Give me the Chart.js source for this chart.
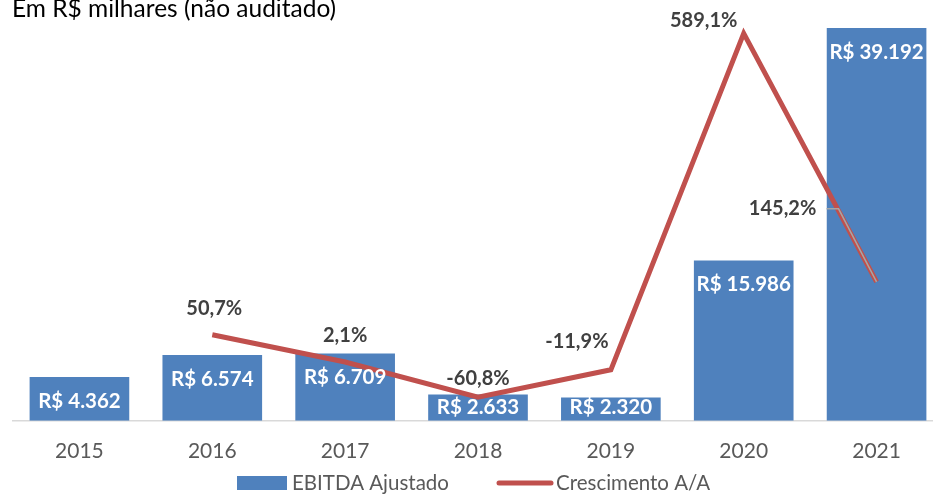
<!DOCTYPE html>
<html>
<head>
<meta charset="utf-8">
<script src="https://cdn.jsdelivr.net/npm/chart.js@4"></script>
<style>
  html, body { margin: 0; padding: 0; background: #fff; overflow: hidden; }
  #wrap { width: 946px; height: 495px; }
</style>
</head>
<body>
<div id="wrap"><canvas id="myChart" width="946" height="495"></canvas></div>
<script>
// dados (R$ milhares)
var anos = ['2015', '2016', '2017', '2018', '2019', '2020', '2021'];
var ebitda = [4362, 6574, 6709, 2633, 2320, 15986, 39192];
var crescimento = [null, 50.7, 2.1, -60.8, -11.9, 589.1, 145.2];
var titulo = 'Em R$ milhares (não auditado)';

// deslocamento dos rótulos da linha (px)
var offLinha = [[0, 0], [2, -26], [0, -26], [0, -19], [-34, -28], [-40, -13], [-94, -73]];

var FONTE = 'Lato, "Open Sans", sans-serif';
var AZUL = '#4F81BD';
var VERMELHO = '#C0504D';

function fmtMil(v) {
    return 'R$ ' + v.toString().replace(/\B(?=(\d{3})+(?!\d))/g, '.');
}
function fmtPct(v) {
    return v.toFixed(1).replace('.', ',') + '%';
}

var rotulos = {
    id: 'rotulos',
    afterDatasetsDraw: function(chart) {
        var ctx = chart.ctx;
        var base = chart.scales.y.getPixelForValue(0);
        ctx.save();
        // rótulos das barras
        ctx.font = 'bold 20.5px ' + FONTE;
        ctx.fillStyle = '#FFFFFF';
        ctx.textAlign = 'center';
        ctx.textBaseline = 'middle';
        chart.getDatasetMeta(0).data.forEach(function(bar, i) {
            var y = Math.min(bar.y + 24, base - 13);
            ctx.fillText(fmtMil(ebitda[i]), bar.x, y);
        });
        // rótulos da linha
        ctx.font = 'bold 20px ' + FONTE;
        ctx.fillStyle = '#404040';
        chart.getDatasetMeta(1).data.forEach(function(pt, i) {
            if (crescimento[i] === null) return;
            ctx.fillText(fmtPct(crescimento[i]), pt.x + offLinha[i][0], pt.y + offLinha[i][1]);
        });
        // linha de chamada do último rótulo
        var ult = chart.getDatasetMeta(1).data[6];
        ctx.strokeStyle = '#A6A6A6';
        ctx.lineWidth = 1.5;
        ctx.beginPath();
        ctx.moveTo(ult.x - 50, ult.y - 73);
        ctx.lineTo(ult.x - 38, ult.y - 73);
        ctx.lineTo(ult.x, ult.y);
        ctx.stroke();
        ctx.restore();
    },
    afterDraw: function(chart) {
        var ctx = chart.ctx;
        ctx.save();
        // título
        ctx.font = '24.5px ' + FONTE;
        ctx.fillStyle = '#000000';
        ctx.textAlign = 'left';
        ctx.textBaseline = 'alphabetic';
        ctx.fillText(titulo, 12, 17);
        // legenda
        var ds = chart.data.datasets;
        ctx.font = '20.5px ' + FONTE;
        ctx.textBaseline = 'middle';
        var ly = 483;
        ctx.fillStyle = AZUL;
        ctx.fillRect(237, ly - 7, 50, 14);
        ctx.fillStyle = '#595959';
        ctx.fillText(ds[0].label, 292, ly);
        ctx.strokeStyle = VERMELHO;
        ctx.lineWidth = 5;
        ctx.lineCap = 'round';
        ctx.beginPath();
        ctx.moveTo(499, ly);
        ctx.lineTo(551, ly);
        ctx.stroke();
        ctx.fillText(ds[1].label, 556, ly);
        ctx.restore();
    }
};

var ctx = document.getElementById('myChart').getContext('2d');
var myChart = new Chart(ctx, {
    type: 'bar',
    data: {
        labels: anos,
        datasets: [{
            label: 'EBITDA Ajustado',
            data: ebitda,
            backgroundColor: AZUL,
            borderWidth: 0,
            categoryPercentage: 1,
            barPercentage: 0.75,
            yAxisID: 'y',
            order: 2
        }, {
            type: 'line',
            label: 'Crescimento A/A',
            data: crescimento,
            borderColor: VERMELHO,
            backgroundColor: VERMELHO,
            borderWidth: 5,
            pointRadius: 0,
            tension: 0,
            spanGaps: false,
            yAxisID: 'y1',
            order: 1
        }]
    },
    options: {
        responsive: false,
        animation: false,
        devicePixelRatio: 1,
        layout: { padding: { left: 13, right: 3, top: 20, bottom: 13 } },
        plugins: {
            legend: { display: false },
            tooltip: { enabled: false }
        },
        scales: {
            x: {
                grid: { display: false, drawTicks: false },
                border: { display: true, color: '#D9D9D9', width: 1.5 },
                ticks: { color: '#595959', font: { family: FONTE, size: 21 }, padding: 18 }
            },
            y: {
                display: false,
                min: 0,
                max: 40000
            },
            y1: {
                display: false,
                min: -103,
                max: 613
            }
        }
    },
    plugins: [rotulos]
});
</script>
</body>
</html>
